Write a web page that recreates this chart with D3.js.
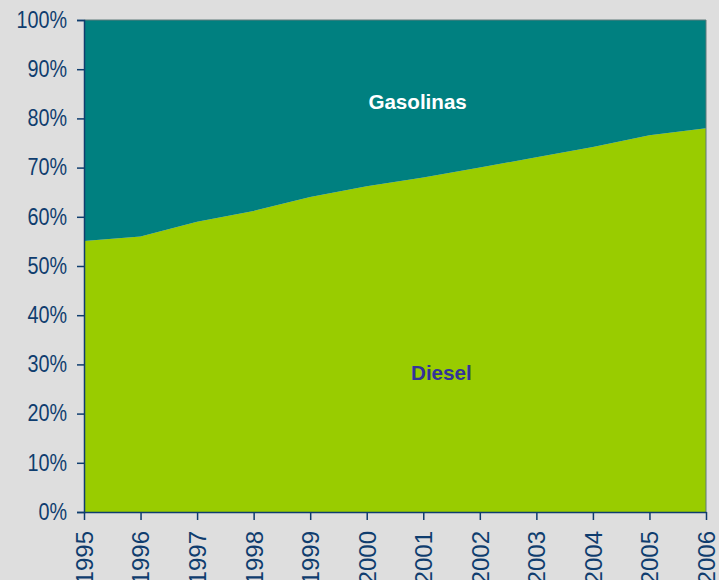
<!DOCTYPE html>
<html>
<head>
<meta charset="utf-8">
<script src="https://cdn.jsdelivr.net/npm/d3@7"></script>
<style>
  html, body { margin: 0; padding: 0; background: #dedede; }
  svg { display: block; font-family: "Liberation Sans", Arial, sans-serif; }
</style>
</head>
<body>
<div id="chart"></div>
<script>
const years = [1995, 1996, 1997, 1998, 1999, 2000, 2001, 2002, 2003, 2004, 2005, 2006];
const diesel = [55.1, 56, 59, 61.2, 64, 66.2, 68, 70, 72.1, 74.2, 76.6, 78];
const gasolinas = diesel.map(d => 100 - d);
const yTicks = [0, 10, 20, 30, 40, 50, 60, 70, 80, 90, 100];

const width = 719, height = 580;
const marginTop = 20, marginRight = 13, marginBottom = 68, marginLeft = 84;
const axisColor = "#0f3d6e";
const squeeze = 0.86; // y labels in the reference are narrower than they are tall

const data = years.map((y, i) => ({year: y, Diesel: diesel[i], Gasolinas: gasolinas[i]}));
const series = d3.stack().keys(["Diesel", "Gasolinas"])(data);

const x = d3.scaleLinear()
    .domain(d3.extent(years))
    .range([marginLeft, width - marginRight]);
const y = d3.scaleLinear()
    .domain([0, 100])
    .range([height - marginBottom, marginTop]);

const colors = {Diesel: "#99cc00", Gasolinas: "#008080"};

const svg = d3.select("#chart").append("svg")
    .attr("width", width)
    .attr("height", height)
    .attr("viewBox", [0, 0, width, height]);

const area = d3.area()
    .x(d => x(d.data.year))
    .y0(d => y(d[0]))
    .y1(d => y(d[1]));

svg.append("g")
  .selectAll("path")
  .data(series)
  .join("path")
    .attr("fill", d => colors[d.key])
    .attr("d", area);

// thin frame on top and right of the plot
svg.append("path")
    .attr("fill", "none")
    .attr("stroke", "#5f7a7a")
    .attr("stroke-width", 1)
    .attr("d", `M${x(1995)},${y(100)}H${x(2006)}V${y(0)}`);

// y axis
svg.append("g")
    .attr("transform", `translate(${marginLeft},0)`)
    .call(d3.axisLeft(y).tickValues(yTicks).tickFormat(d => d + "%").tickSize(7).tickPadding(10))
    .call(g => g.select(".domain").attr("stroke", axisColor).attr("stroke-width", 1.5))
    .call(g => g.selectAll(".tick line").attr("stroke", axisColor).attr("stroke-width", 1.5))
    .call(g => g.selectAll(".tick text")
        .attr("fill", axisColor)
        .attr("font-size", 23)
        .attr("font-family", "Liberation Sans, Arial, sans-serif")
        .attr("x", -17 / squeeze)
        .attr("transform", `scale(${squeeze},1)`));

// x axis
svg.append("g")
    .attr("transform", `translate(0,${height - marginBottom})`)
    .call(d3.axisBottom(x).tickValues(years).tickFormat(d3.format("d")).tickSize(8).tickSizeOuter(0))
    .call(g => g.select(".domain").attr("stroke", axisColor).attr("stroke-width", 1.5))
    .call(g => g.selectAll(".tick line").attr("stroke", axisColor).attr("stroke-width", 1.5))
    .call(g => g.selectAll(".tick text")
        .attr("fill", axisColor)
        .attr("font-size", 24)
        .attr("font-family", "Liberation Sans, Arial, sans-serif")
        .attr("transform", "rotate(-90)")
        .attr("text-anchor", "end")
        .attr("x", -19)
        .attr("y", 0)
        .attr("dy", "0.35em"));

// series labels
svg.append("text")
    .attr("x", x(2000.9))
    .attr("y", y(83.1))
    .attr("text-anchor", "middle")
    .attr("dominant-baseline", "middle")
    .attr("fill", "#ffffff")
    .attr("font-weight", "bold")
    .attr("font-size", 20.6)
    .text("Gasolinas");

svg.append("text")
    .attr("x", x(2001.32))
    .attr("y", y(28))
    .attr("text-anchor", "middle")
    .attr("dominant-baseline", "middle")
    .attr("fill", "#333399")
    .attr("font-weight", "bold")
    .attr("font-size", 20.6)
    .text("Diesel");
</script>
</body>
</html>
